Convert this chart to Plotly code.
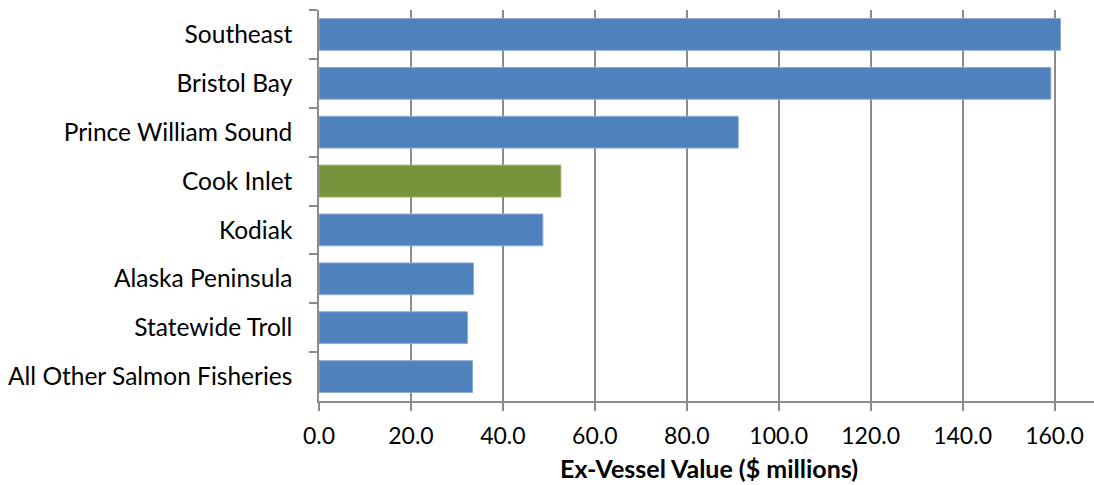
import plotly.graph_objects as go

# Salmon fisheries ex-vessel value by region ($ millions)
regions = [
    "Southeast",
    "Bristol Bay",
    "Prince William Sound",
    "Cook Inlet",
    "Kodiak",
    "Alaska Peninsula",
    "Statewide Troll",
    "All Other Salmon Fisheries",
]
values = [161.3, 159.2, 91.2, 52.6, 48.7, 33.6, 32.3, 33.4]
highlight = "Cook Inlet"

tick_vals = [0, 20, 40, 60, 80, 100, 120, 140, 160]
tick_text = [f"{v:.1f}" for v in tick_vals]

BLUE = "#4F81BD"
GREEN = "#77933C"
colors = [GREEN if r == highlight else BLUE for r in regions]
edge = ["#8FAE5A" if r == highlight else "#8EAAD6" for r in regions]

FONT = "Lato"
GRID = "#8C8C8C"

fig = go.Figure(
    go.Bar(
        x=values,
        y=regions,
        orientation="h",
        marker=dict(color=colors, line=dict(color=edge, width=1)),
        hoverinfo="x+y",
    )
)

W, H = 1094, 485
L, R, T, B = 318.5, 0, 10, 84.3
px_per_unit = 4.6
x_max = (W - L - R) / px_per_unit

fig.update_layout(
    width=W,
    height=H,
    margin=dict(l=L, r=R, t=T, b=B, pad=0),
    paper_bgcolor="white",
    plot_bgcolor="white",
    bargap=0.35,
    showlegend=False,
    font=dict(family=FONT, size=22, color="#000000"),
)

fig.update_xaxes(
    range=[0, x_max],
    tickvals=tick_vals,
    ticktext=tick_text,
    showgrid=True,
    gridcolor=GRID,
    gridwidth=1.5,
    zeroline=False,
    showline=True,
    linecolor=GRID,
    linewidth=1.5,
    ticks="outside",
    ticklen=8,
    tickwidth=1.5,
    tickcolor=GRID,
    ticklabelstandoff=6,
    tickfont=dict(family=FONT, size=23, color="#000"),
)

fig.update_yaxes(
    categoryorder="array",
    categoryarray=regions,
    autorange="reversed",
    showgrid=False,
    showline=True,
    linecolor=GRID,
    linewidth=1.5,
    ticks="outside",
    ticklen=8,
    tickwidth=1.5,
    tickcolor=GRID,
    tickmode="array",
    tickson="boundaries",
    ticklabelstandoff=20,
    tickfont=dict(family=FONT, size=24.5, color="#000"),
)

# Axis title centred on the full plotting width
fig.add_annotation(
    text="<b>Ex-Vessel Value ($ millions)</b>",
    xref="paper",
    yref="paper",
    x=(709 - L) / (W - L - R),
    y=-(468 - (H - B)) / (H - T - B),
    xanchor="center",
    yanchor="middle",
    showarrow=False,
    font=dict(family=FONT, size=25, color="#000"),
)

fig.write_html("out.html")
